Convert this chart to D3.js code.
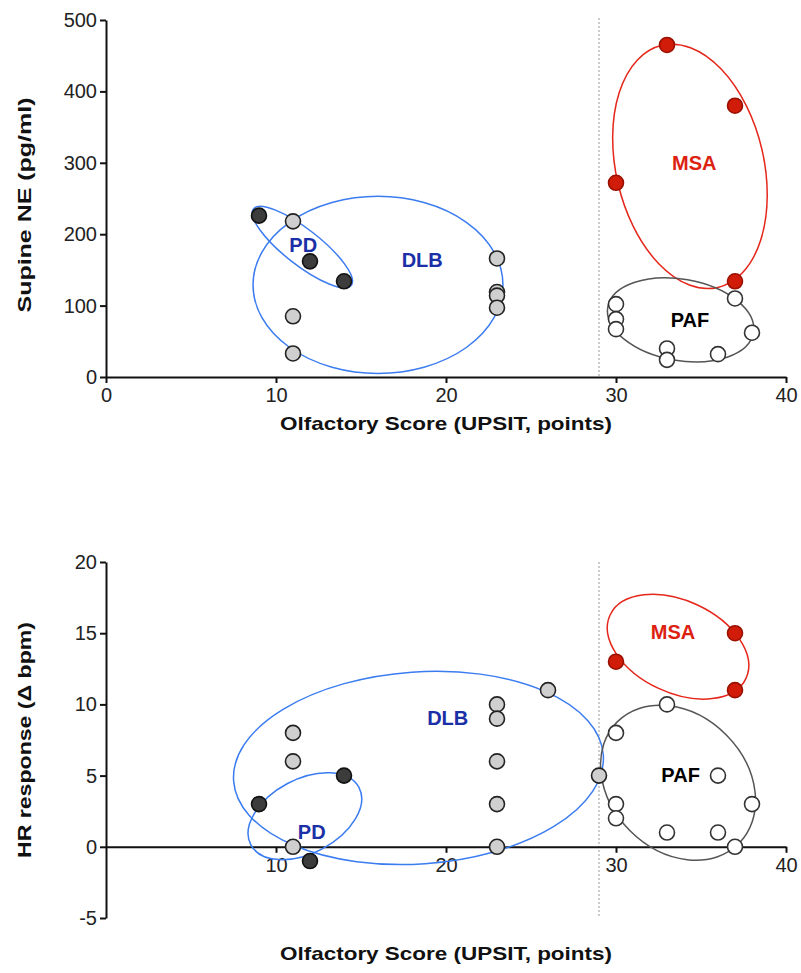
<!DOCTYPE html>
<html>
<head>
<meta charset="utf-8">
<script src="https://cdn.jsdelivr.net/npm/d3@7"></script>
<style>
  body { margin: 0; background: #fff; }
  text { font-family: "Liberation Sans", Arial, sans-serif; }
</style>
</head>
<body>
<div id="container"></div>
<script>
// Data: [olfactory score, value]
const topPD  = [[9, 226], [12, 162], [14, 134]];
const topDLB = [[11, 218], [11, 85], [11, 33], [23, 166], [23, 119], [23, 114], [23, 97]];
const topMSA = [[33, 465], [37, 380], [30, 272], [37, 134]];
const topPAF = [[30, 102], [30, 81], [30, 67], [33, 40], [33, 24], [36, 32], [37, 110], [38, 62]];

const botPD  = [[9, 3], [14, 5], [12, -1]];
const botDLB = [[11, 8], [11, 6], [11, 0], [23, 10], [23, 9], [23, 6], [23, 3], [23, 0], [26, 11], [29, 5]];
const botMSA = [[30, 13], [37, 15], [37, 11]];
const botPAF = [[33, 10], [30, 8], [36, 5], [38, 3], [30, 3], [30, 2], [33, 1], [36, 1], [37, 0]];

// Group ellipses: [cx, cy, rx (x units), ry (y units), rotation deg]
const topEllipses = { PD: [11.55, 182, 3.65, 25, 38], DLB: [16, 129, 7.35, 124, 0], MSA: [34.35, 295, 4.35, 174, -13], PAF: [33.8, 80, 4.35, 57, 10] };
const botEllipses = { PD: [11.7, 2.15, 3.6, 2.6, -28], DLB: [18.38, 5.54, 10.9, 6.74, -4], MSA: [33.65, 14.05, 4.41, 3.23, 25], PAF: [33.65, 4.5, 5.06, 4.77, 45] };

// Group label positions
const topLabels = { PD: [11.6, 185], DLB: [18.6, 164], MSA: [34.6, 300], PAF: [34.35, 80] };
const botLabels = { PD: [12.1, 1.05], DLB: [20.1, 9.05], MSA: [33.35, 15.1], PAF: [33.8, 5.05] };

const xTicksTop = [0, 10, 20, 30, 40];
const xTicksBot = [10, 20, 30, 40];
const yTicksTop = [0, 100, 200, 300, 400, 500];
const yTicksBot = [-5, 0, 5, 10, 15, 20];
const cutoff = 29;

const style = {
  PD:  { fill: "#3c3c3c", stroke: "#111", ell: "#3b7cf0", label: "#1b2fa6" },
  DLB: { fill: "#cfcfcf", stroke: "#222", ell: "#3b7cf0", label: "#1b2fa6" },
  MSA: { fill: "#d01c08", stroke: "#9a1000", ell: "#e5261a", label: "#dd2211" },
  PAF: { fill: "#ffffff", stroke: "#333", ell: "#555", label: "#000" }
};

const svg = d3.select("#container").append("svg")
  .attr("width", 801).attr("height", 973);

const x = d3.scaleLinear().domain([0, 40]).range([106, 786]);

function panel(yScale, xTicks, yTicks, xAxisY, series, ellipses, labels, yTitle, yTitleY, yTitleLen, xTitleY, cutTop, cutBottom) {
  const g = svg.append("g");

  // dotted cutoff line
  g.append("line")
    .attr("x1", x(cutoff)).attr("x2", x(cutoff))
    .attr("y1", cutTop).attr("y2", cutBottom)
    .attr("stroke", "#999").attr("stroke-width", 1)
    .attr("stroke-dasharray", "2,2");

  // axes
  const yAx = g.append("g").attr("transform", `translate(${x(0)},0)`)
    .call(d3.axisLeft(yScale).tickValues(yTicks).tickSize(6).tickSizeOuter(0).tickFormat(d => String(d)));
  const xAx = g.append("g").attr("transform", `translate(0,${xAxisY})`)
    .call(d3.axisBottom(x).tickValues(xTicks).tickSize(6).tickSizeOuter(0));
  [yAx, xAx].forEach(a => {
    a.selectAll("path, line").attr("stroke", "#111").attr("stroke-width", 2);
    a.selectAll("text").attr("font-size", 20).attr("fill", "#222")
      .style("font-family", "'Liberation Sans', Arial, sans-serif");
  });
  yAx.selectAll("text").attr("x", -9);
  xAx.selectAll("text").attr("y", 11);

  // ellipses
  Object.entries(ellipses).forEach(([k, e]) => {
    const cx = x(e[0]), cy = yScale(e[1]);
    const rx = x(e[2]) - x(0), ry = Math.abs(yScale(e[3]) - yScale(0));
    g.append("ellipse")
      .attr("cx", cx).attr("cy", cy).attr("rx", rx).attr("ry", ry)
      .attr("transform", `rotate(${e[4]},${cx},${cy})`)
      .attr("fill", "none").attr("stroke", style[k].ell).attr("stroke-width", 1.5);
  });

  // points
  Object.entries(series).forEach(([k, pts]) => {
    g.selectAll(null).data(pts).enter().append("circle")
      .attr("cx", d => x(d[0])).attr("cy", d => yScale(d[1]))
      .attr("r", 7.5)
      .attr("fill", style[k].fill).attr("stroke", style[k].stroke).attr("stroke-width", 1.6);
  });

  // group labels
  Object.entries(labels).forEach(([k, p]) => {
    g.append("text").attr("x", x(p[0])).attr("y", yScale(p[1]))
      .attr("text-anchor", "middle").attr("dominant-baseline", "central")
      .attr("font-size", 20).attr("font-weight", "bold").attr("fill", style[k].label)
      .text(k);
  });

  // axis titles
  g.append("text").attr("x", 446).attr("y", xTitleY)
    .attr("text-anchor", "middle").attr("dominant-baseline", "central")
    .attr("font-size", 19).attr("font-weight", "bold").attr("fill", "#111")
    .attr("textLength", 332).attr("lengthAdjust", "spacingAndGlyphs")
    .text("Olfactory Score (UPSIT, points)");
  g.append("text")
    .attr("transform", `translate(24,${yTitleY}) rotate(-90)`)
    .attr("text-anchor", "middle").attr("dominant-baseline", "central")
    .attr("font-size", 19).attr("font-weight", "bold").attr("fill", "#111")
    .attr("textLength", yTitleLen).attr("lengthAdjust", "spacingAndGlyphs")
    .text(yTitle);
}

const yTop = d3.scaleLinear().domain([0, 500]).range([377, 20]);
const yBot = d3.scaleLinear().domain([-5, 20]).range([918, 562]);

panel(yTop, xTicksTop, yTicksTop, yTop(0),
  { DLB: topDLB, PD: topPD, MSA: topMSA, PAF: topPAF }, topEllipses, topLabels,
  "Supine NE (pg/ml)", 205, 215, 423, 18, 377);

panel(yBot, xTicksBot, yTicksBot, yBot(0),
  { DLB: botDLB, PD: botPD, MSA: botMSA, PAF: botPAF }, botEllipses, botLabels,
  "HR response (\u0394 bpm)", 740, 236, 953, 562, 918);
</script>
</body>
</html>
